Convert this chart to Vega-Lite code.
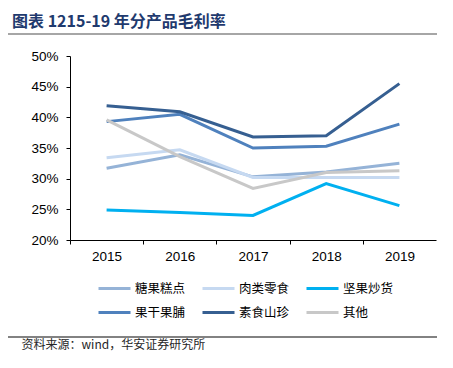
{
  "$schema": "https://vega.github.io/schema/vega-lite/v6.json",
  "autosize": "none",
  "width": 366,
  "height": 184,
  "padding": {"left": 70, "top": 56, "right": 17, "bottom": 128},
  "background": "white",
  "title": {
    "text": "图表 1215-19 年分产品毛利率",
    "anchor": "start",
    "frame": "group",
    "dx": -58,
    "offset": 3,
    "font": "Noto Sans CJK SC",
    "fontSize": 16,
    "fontWeight": "bold",
    "color": "#1f3a6e"
  },
  "config": {
    "view": {"stroke": null},
    "font": "Liberation Sans"
  },
  "layer": [
    {
      "data": {"values": [{"k": "top"}]},
      "mark": {"type": "rule", "stroke": "#a6a6a6", "strokeWidth": 2},
      "encoding": {"x": {"value": -62}, "x2": {"value": 367}, "y": {"value": -22}}
    },
    {
      "data": {"values": [{"k": "bottom"}]},
      "mark": {"type": "rule", "stroke": "#595959", "strokeWidth": 1.5},
      "encoding": {"x": {"value": -62}, "x2": {"value": 367}, "y": {"value": 281}}
    },
    {
      "data": {
        "values": [
          {"year": "2015", "cat": "糖果糕点", "v": 0.317},
          {"year": "2016", "cat": "糖果糕点", "v": 0.339},
          {"year": "2017", "cat": "糖果糕点", "v": 0.303},
          {"year": "2018", "cat": "糖果糕点", "v": 0.311},
          {"year": "2019", "cat": "糖果糕点", "v": 0.325},
          {"year": "2015", "cat": "肉类零食", "v": 0.334},
          {"year": "2016", "cat": "肉类零食", "v": 0.347},
          {"year": "2017", "cat": "肉类零食", "v": 0.302},
          {"year": "2018", "cat": "肉类零食", "v": 0.302},
          {"year": "2019", "cat": "肉类零食", "v": 0.302},
          {"year": "2015", "cat": "坚果炒货", "v": 0.249},
          {"year": "2016", "cat": "坚果炒货", "v": 0.245},
          {"year": "2017", "cat": "坚果炒货", "v": 0.240},
          {"year": "2018", "cat": "坚果炒货", "v": 0.292},
          {"year": "2019", "cat": "坚果炒货", "v": 0.256},
          {"year": "2015", "cat": "果干果脯", "v": 0.393},
          {"year": "2016", "cat": "果干果脯", "v": 0.405},
          {"year": "2017", "cat": "果干果脯", "v": 0.350},
          {"year": "2018", "cat": "果干果脯", "v": 0.353},
          {"year": "2019", "cat": "果干果脯", "v": 0.389},
          {"year": "2015", "cat": "素食山珍", "v": 0.419},
          {"year": "2016", "cat": "素食山珍", "v": 0.409},
          {"year": "2017", "cat": "素食山珍", "v": 0.368},
          {"year": "2018", "cat": "素食山珍", "v": 0.370},
          {"year": "2019", "cat": "素食山珍", "v": 0.455},
          {"year": "2015", "cat": "其他", "v": 0.396},
          {"year": "2016", "cat": "其他", "v": 0.336},
          {"year": "2017", "cat": "其他", "v": 0.284},
          {"year": "2018", "cat": "其他", "v": 0.310},
          {"year": "2019", "cat": "其他", "v": 0.313}
        ]
      },
      "mark": {"type": "line", "strokeWidth": 3},
      "encoding": {
        "x": {
          "field": "year",
          "type": "ordinal",
          "scale": {"type": "point", "padding": 0.5},
          "axis": {
            "title": "资料来源：wind，华安证券研究所",
            "titleFont": "Noto Sans CJK SC",
            "titleFontSize": 12,
            "titleFontWeight": "normal",
            "titleColor": "#262626",
            "titleAnchor": "start",
            "titleAlign": "left",
            "titleBaseline": "middle",
            "titleX": -49,
            "titleY": 104,
            "labelAngle": 0,
            "labelFontSize": 13.5,
            "labelColor": "#000000",
            "labelPadding": 5,
            "labelOffset": 36.6,
            "tickSize": 4,
            "tickOffset": -36.6,
            "tickColor": "#000000",
            "domainColor": "#000000",
            "grid": false
          }
        },
        "y": {
          "field": "v",
          "type": "quantitative",
          "scale": {"domain": [0.2, 0.5], "nice": false},
          "axis": {
            "title": null,
            "values": [0.2, 0.25, 0.3, 0.35, 0.4, 0.45, 0.5],
            "format": ".0%",
            "labelFontSize": 13.5,
            "labelColor": "#000000",
            "labelPadding": 8,
            "tickSize": 4,
            "tickColor": "#000000",
            "domainColor": "#000000",
            "grid": false
          }
        },
        "color": {
          "field": "cat",
          "type": "nominal",
          "scale": {
            "domain": ["糖果糕点", "肉类零食", "坚果炒货", "果干果脯", "素食山珍", "其他"],
            "range": ["#95b3d7", "#c6d9f1", "#00b0f0", "#4f81bd", "#365f91", "#c8c8c8"]
          },
          "legend": {
            "title": null,
            "orient": "none",
            "legendX": 27,
            "legendY": 215,
            "direction": "horizontal",
            "columns": 3,
            "columnPadding": 10,
            "rowPadding": -6,
            "padding": 0,
            "symbolType": "stroke",
            "symbolSize": 1024,
            "symbolStrokeWidth": 3,
            "labelOffset": 3,
            "labelFont": "Noto Sans CJK SC",
            "labelFontSize": 12.5,
            "labelColor": "#000000"
          }
        }
      }
    }
  ]
}
